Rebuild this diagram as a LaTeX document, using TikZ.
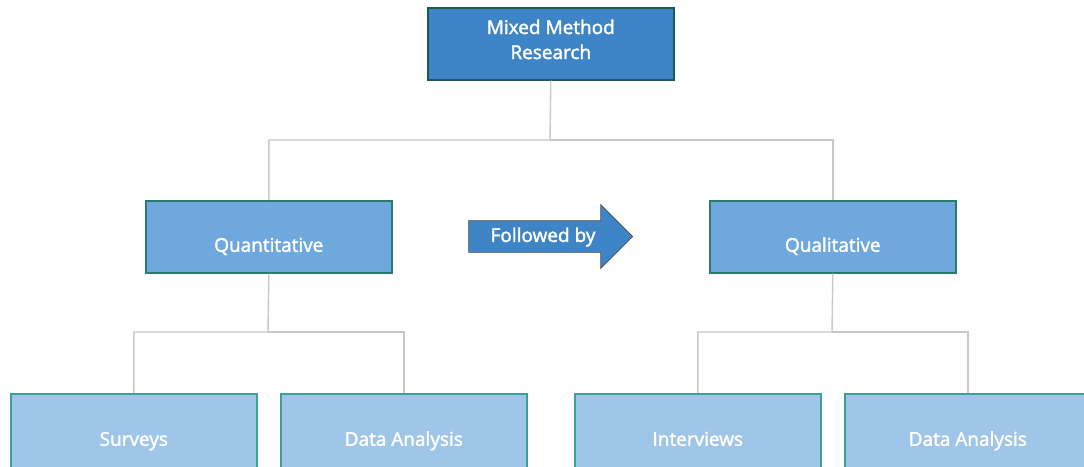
\documentclass[tikz,border=0pt]{standalone}
\usepackage{fontspec}
\setmainfont{Open Sans}
\newfontfamily\lblfont[FakeBold=2]{Open Sans}
\usetikzlibrary{shapes.arrows}
\definecolor{topfill}{HTML}{3D85C6}
\definecolor{topedge}{HTML}{1E5A55}
\definecolor{midfill}{HTML}{6FA8DC}
\definecolor{midedge}{HTML}{2A7A70}
\definecolor{lowfill}{HTML}{9FC5E8}
\definecolor{lowedge}{HTML}{3AA197}
\definecolor{linegray}{HTML}{C8C8C8}
\definecolor{arrowedge}{HTML}{4A4A4A}
\newcommand{\lowtext}[1]{\raisebox{-15pt}[0pt][0pt]{#1}}
\begin{document}
\begin{tikzpicture}[x=1pt,y=-1pt,
  lbl/.style={text=white, font=\lblfont\fontsize{19}{25}\selectfont},
  box/.style={draw, line width=1.6pt, minimum width=246pt, minimum height=72pt, inner sep=0pt,
    lbl, align=center, anchor=north west},
  topbox/.style={box, fill=topfill, draw=topedge},
  midbox/.style={box, fill=midfill, draw=midedge},
  lowbox/.style={box, fill=lowfill, draw=lowedge, minimum height=74pt},
  conn/.style={draw=linegray, line width=1.4pt}]
\useasboundingbox (0,0) rectangle (1084,466);
\begin{scope}
\clip (0,0) rectangle (1084,466);
\node[topbox] (mm) at (427,7) {Mixed Method\\Research\rule[-9pt]{0pt}{9pt}};
\node[midbox] (quant) at (145,200) {\lowtext{Quantitative}};
\node[midbox] (qual) at (709,200) {\lowtext{Qualitative}};
\node[lowbox] (surv) at (10,393) {\lowtext{Surveys}};
\node[lowbox] (da1) at (280,393) {\lowtext{Data Analysis}};
\node[lowbox] (intv) at (574,393) {\lowtext{Interviews}};
\node[lowbox] (da2) at (844,393) {\lowtext{Data Analysis}};
\node[single arrow, fill=topfill, draw=arrowedge, line width=0.6pt,
  minimum height=164pt, minimum width=63pt,
  single arrow head extend=16pt, inner xsep=0pt, inner ysep=15.5pt, anchor=tip]
  (arr) at (633,236.5) {};
\node[lbl, inner sep=0pt] (fb) at (543,237) {Followed by};
\coordinate (j0) at (550,140);
\coordinate (jq) at (268,332);
\coordinate (jl) at (832,332);
\draw[conn] (mm.south) -- (j0) -| (quant.north);
\draw[conn] (j0) -| (qual.north);
\draw[conn] (quant.south) -- (jq) -| (surv.north);
\draw[conn] (jq) -| (da1.north);
\draw[conn] (qual.south) -- (jl) -| (intv.north);
\draw[conn] (jl) -| (da2.north);
\end{scope}
\end{tikzpicture}
\end{document}
